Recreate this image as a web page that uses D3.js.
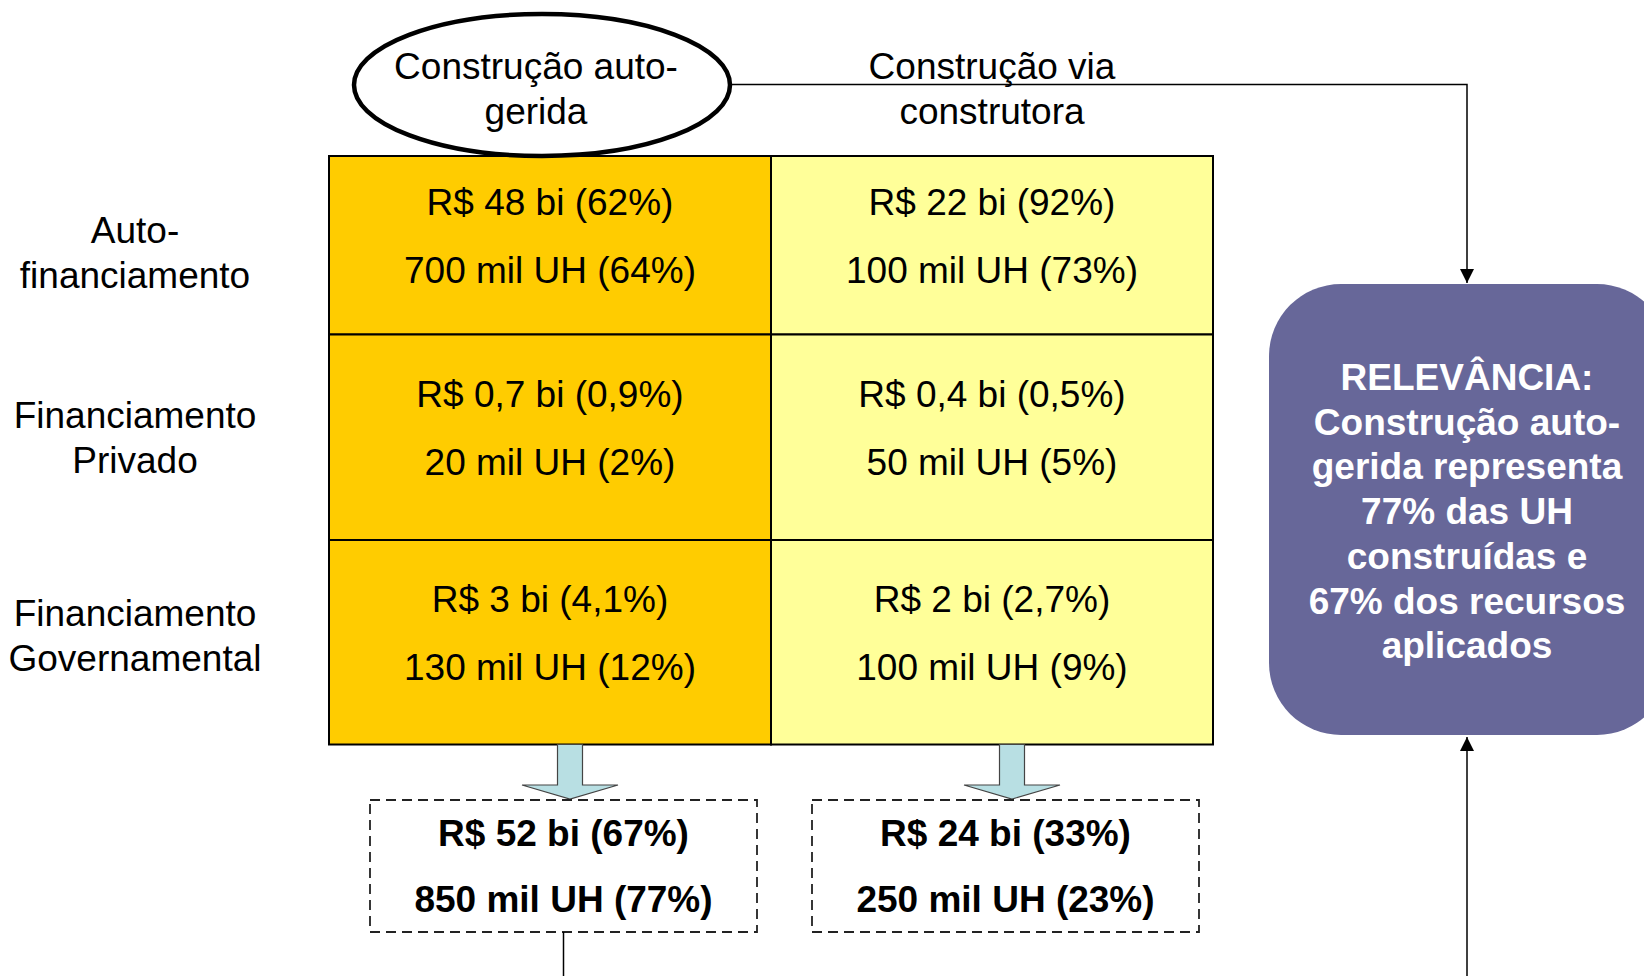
<!DOCTYPE html>
<html>
<head>
<meta charset="utf-8">
<script src="https://cdn.jsdelivr.net/npm/d3@7"></script>
<style>
  body { margin: 0; background: #fff; }
  svg { display: block; }
</style>
</head>
<body>
<script>
// data
var rowLabels = [["Auto-", "financiamento"], ["Financiamento", "Privado"], ["Financiamento", "Governamental"]];
var colLabels = [["Construção auto-", "gerida"], ["Construção via", "construtora"]];
// [row][col]
var moneyBi = [[48, 22], [0.7, 0.4], [3, 2]];
var moneyPct = [[62, 92], [0.9, 0.5], [4.1, 2.7]];
var unitsMil = [[700, 100], [20, 50], [130, 100]];
var unitsPct = [[64, 73], [2, 5], [12, 9]];
// column totals
var totalMoneyBi = [52, 24];
var totalMoneyPct = [67, 33];
var totalUnitsMil = [850, 250];
var totalUnitsPct = [77, 23];
var relevanceLines = ["RELEVÂNCIA:", "Construção auto-", "gerida representa", "77% das UH", "construídas e", "67% dos recursos", "aplicados"];

var svgWidth = 1644;
var svgHeight = 976;
var font = "'Liberation Sans', Arial, sans-serif";
var fontSize = 37;
var colFill = ["#FFCC00", "#FFFF99"];

var br = function(n) { return String(n).replace(".", ","); };

var svg = d3.select("body")
  .append("svg")
  .attr("width", svgWidth)
  .attr("height", svgHeight)
  .style("font-family", font);

// Scales for the grid
var x = d3.scaleBand()
  .domain(d3.range(colLabels.length))
  .range([329, 1213]);

// row edges are not even on the slide
var yEdge = d3.scaleOrdinal()
  .domain(d3.range(rowLabels.length + 1))
  .range([156, 334.5, 540, 744.5]);

var rowMid = function(i) { return (yEdge(i) + yEdge(i + 1)) / 2; };

// connector lines (drawn first so shapes sit on top)
svg.append("defs").append("marker")
  .attr("id", "tri")
  .attr("viewBox", "0 0 10 10")
  .attr("refX", 10).attr("refY", 5)
  .attr("markerWidth", 14).attr("markerHeight", 14)
  .attr("markerUnits", "userSpaceOnUse")
  .attr("orient", "auto")
  .append("path")
  .attr("d", "M0,0 L10,5 L0,10 z")
  .attr("fill", "#000");

var relX = 1467;

svg.append("path")
  .attr("d", "M700,84.5 H" + relX + " V283")
  .attr("fill", "none")
  .attr("stroke", "#000")
  .attr("stroke-width", 1.5)
  .attr("marker-end", "url(#tri)");

svg.append("path")
  .attr("d", "M" + relX + "," + svgHeight + " V737")
  .attr("fill", "none")
  .attr("stroke", "#000")
  .attr("stroke-width", 1.5)
  .attr("marker-end", "url(#tri)");

// grid cells
var cells = [];
moneyBi.forEach(function(row, r) {
  row.forEach(function(v, c) {
    cells.push({r: r, c: c, money: v, mPct: moneyPct[r][c], units: unitsMil[r][c], uPct: unitsPct[r][c]});
  });
});

var cellG = svg.append("g");

cellG.selectAll("rect")
  .data(cells).enter()
  .append("rect")
  .attr("x", function(d) { return x(d.c); })
  .attr("y", function(d) { return yEdge(d.r); })
  .attr("width", x.bandwidth())
  .attr("height", function(d) { return yEdge(d.r + 1) - yEdge(d.r); })
  .attr("fill", function(d) { return colFill[d.c]; })
  .attr("stroke", "#000")
  .attr("stroke-width", 2);

cellG.selectAll("text.money")
  .data(cells).enter()
  .append("text")
  .attr("class", "money")
  .attr("x", function(d) { return x(d.c) + x.bandwidth() / 2; })
  .attr("y", function(d) { return rowMid(d.r) - 30; })
  .attr("text-anchor", "middle")
  .attr("font-size", fontSize)
  .text(function(d) { return "R$ " + br(d.money) + " bi (" + br(d.mPct) + "%)"; });

cellG.selectAll("text.units")
  .data(cells).enter()
  .append("text")
  .attr("class", "units")
  .attr("x", function(d) { return x(d.c) + x.bandwidth() / 2; })
  .attr("y", function(d) { return rowMid(d.r) + 38; })
  .attr("text-anchor", "middle")
  .attr("font-size", fontSize)
  .text(function(d) { return br(d.units) + " mil UH (" + br(d.uPct) + "%)"; });

// row labels
svg.selectAll("text.rowlab")
  .data(rowLabels).enter()
  .append("text")
  .attr("class", "rowlab")
  .attr("text-anchor", "middle")
  .attr("font-size", fontSize)
  .each(function(lines, i) {
    var t = d3.select(this);
    var first = [243, 428, 626][i];
    lines.forEach(function(s, k) {
      t.append("tspan").attr("x", 135).attr("y", first + k * 44.5).text(s);
    });
  });

// ellipse round the first column header
svg.append("ellipse")
  .attr("cx", 542)
  .attr("cy", 85)
  .attr("rx", 188)
  .attr("ry", 71)
  .attr("fill", "#fff")
  .attr("stroke", "#000")
  .attr("stroke-width", 4.5);

// column headers
svg.selectAll("text.collab")
  .data(colLabels).enter()
  .append("text")
  .attr("class", "collab")
  .attr("text-anchor", "middle")
  .attr("font-size", fontSize)
  .each(function(lines, i) {
    var t = d3.select(this);
    var cx = [536, 992][i];
    lines.forEach(function(s, k) {
      t.append("tspan").attr("x", cx).attr("y", 79 + k * 45).text(s);
    });
  });

// light blue block arrows + dashed total boxes
var totals = totalMoneyBi.map(function(v, c) {
  return {c: c, money: v, mPct: totalMoneyPct[c], units: totalUnitsMil[c], uPct: totalUnitsPct[c]};
});

var boxTop = 800, boxBottom = 932, boxW = 387;

var totG = svg.append("g");

totG.selectAll("path.blk")
  .data(totals).enter()
  .append("path")
  .attr("class", "blk")
  .attr("d", function(d) {
    var cx = x(d.c) + x.bandwidth() / 2 + 20;
    var top = yEdge(rowLabels.length);
    return "M" + (cx - 12.5) + "," + top +
      " H" + (cx + 12.5) + " V785 H" + (cx + 48) +
      " L" + cx + ",799 L" + (cx - 48) + ",785 H" + (cx - 12.5) + " Z";
  })
  .attr("fill", "#B8DFE3")
  .attr("stroke", "#444")
  .attr("stroke-width", 1.2);

totG.selectAll("rect")
  .data(totals).enter()
  .append("rect")
  .attr("x", function(d) { return x(d.c) + x.bandwidth() / 2 + 13.5 - boxW / 2; })
  .attr("y", boxTop)
  .attr("width", boxW)
  .attr("height", boxBottom - boxTop)
  .attr("fill", "none")
  .attr("stroke", "#222")
  .attr("stroke-width", 1.8)
  .attr("stroke-dasharray", "10,6");

totG.selectAll("text.tm")
  .data(totals).enter()
  .append("text")
  .attr("class", "tm")
  .attr("x", function(d) { return x(d.c) + x.bandwidth() / 2 + 13.5; })
  .attr("y", (boxTop + boxBottom) / 2 - 20)
  .attr("text-anchor", "middle")
  .attr("font-size", fontSize)
  .attr("font-weight", "bold")
  .text(function(d) { return "R$ " + br(d.money) + " bi (" + br(d.mPct) + "%)"; });

totG.selectAll("text.tu")
  .data(totals).enter()
  .append("text")
  .attr("class", "tu")
  .attr("x", function(d) { return x(d.c) + x.bandwidth() / 2 + 13.5; })
  .attr("y", (boxTop + boxBottom) / 2 + 46)
  .attr("text-anchor", "middle")
  .attr("font-size", fontSize)
  .attr("font-weight", "bold")
  .text(function(d) { return br(d.units) + " mil UH (" + br(d.uPct) + "%)"; });

// line from the first total box down off the page
svg.append("line")
  .attr("x1", x(0) + x.bandwidth() / 2 + 13.5)
  .attr("x2", x(0) + x.bandwidth() / 2 + 13.5)
  .attr("y1", boxBottom)
  .attr("y2", svgHeight)
  .attr("stroke", "#000")
  .attr("stroke-width", 1.5);

// relevance box
svg.append("rect")
  .attr("x", 1269)
  .attr("y", 284)
  .attr("width", 400)
  .attr("height", 451)
  .attr("rx", 72)
  .attr("fill", "#676799");

svg.append("text")
  .attr("text-anchor", "middle")
  .attr("font-size", fontSize)
  .attr("font-weight", "bold")
  .attr("fill", "#fff")
  .selectAll("tspan")
  .data(relevanceLines).enter()
  .append("tspan")
  .attr("x", relX)
  .attr("y", function(d, i) { return 390 + i * 44.7; })
  .text(function(d) { return d; });
</script>
</body>
</html>
